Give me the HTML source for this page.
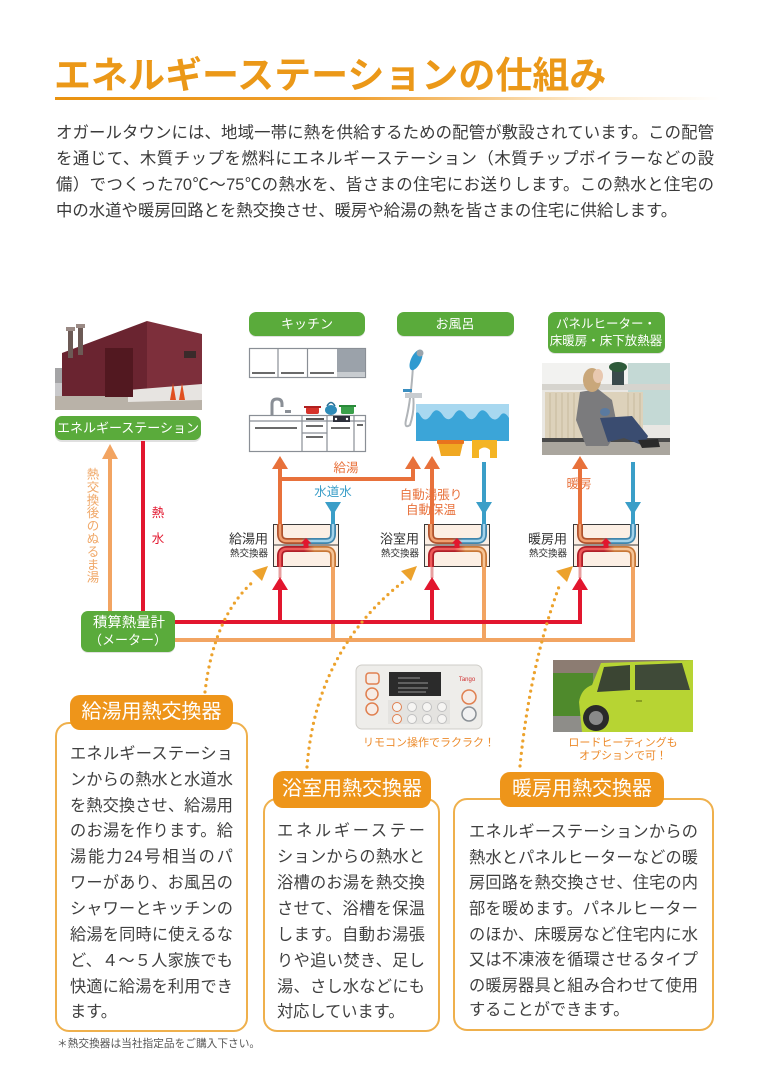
<!DOCTYPE html>
<html><head><meta charset="utf-8">
<style>
*{margin:0;padding:0;box-sizing:border-box}
body{width:768px;height:1087px;background:#fff;position:relative;overflow:hidden;font-family:"Liberation Sans","Noto Sans CJK JP",sans-serif;}
.a{position:absolute;white-space:nowrap}
.title{left:54px;top:56px;font-size:37px;line-height:40px;font-weight:bold;color:#eb9818}
.rule{left:55px;top:97px;width:665px;height:3px;background:linear-gradient(90deg,#e9920f 0%,#f0a030 45%,rgba(250,215,160,0.5) 80%,rgba(255,255,255,0) 100%)}
.p{left:56px;width:658px;font-size:16.4px;line-height:26px;height:26px;color:#3a3a3a}
.j{text-align:justify;text-align-last:justify}
.box{position:absolute;border:2px solid #efb04c;border-radius:14px;background:#fff}
.tab{position:absolute;background:#ee951a;border-radius:10px;color:#fff;font-size:20px;text-align:center}
.bt{position:absolute;white-space:nowrap;font-size:16.2px;line-height:26px;height:26px;color:#404040}
</style></head>
<body>
<div class="a title">エネルギーステーションの仕組み</div>
<div class="a rule"></div>
<div class="a p j" style="top:120px">オガールタウンには、地域一帯に熱を供給するための配管が敷設されています。この配管</div>
<div class="a p j" style="top:146px">を通じて、木質チップを燃料にエネルギーステーション（木質チップボイラーなどの設</div>
<div class="a p j" style="top:172px">備）でつくった70℃～75℃の熱水を、皆さまの住宅にお送りします。この熱水と住宅の</div>
<div class="a p" style="top:198px">中の水道や暖房回路とを熱交換させ、暖房や給湯の熱を皆さまの住宅に供給します。</div>

<svg class="a" style="left:0;top:0" width="768" height="1087" viewBox="0 0 768 1087" font-family="Liberation Sans, Noto Sans CJK JP, sans-serif">
<defs>
<linearGradient id="uo" x1="0" x2="1" y1="0" y2="0"><stop offset="0" stop-color="#b0532e"/><stop offset="0.4" stop-color="#b0532e"/><stop offset="0.6" stop-color="#3f86ad"/><stop offset="1" stop-color="#3f86ad"/></linearGradient>
<linearGradient id="ui" x1="0" x2="1" y1="0" y2="0"><stop offset="0" stop-color="#f0a070"/><stop offset="0.4" stop-color="#f0a070"/><stop offset="0.6" stop-color="#a3d2ea"/><stop offset="1" stop-color="#a3d2ea"/></linearGradient>
<linearGradient id="lo" x1="0" x2="1" y1="0" y2="0"><stop offset="0" stop-color="#b01e28"/><stop offset="0.45" stop-color="#b01e28"/><stop offset="0.65" stop-color="#c87838"/><stop offset="1" stop-color="#c87838"/></linearGradient>
<linearGradient id="li" x1="0" x2="1" y1="0" y2="0"><stop offset="0" stop-color="#ee5a5a"/><stop offset="0.45" stop-color="#ee5a5a"/><stop offset="0.65" stop-color="#f6c496"/><stop offset="1" stop-color="#f6c496"/></linearGradient>
</defs>

<!-- Building photo -->
<g>
<rect x="55" y="395" width="147" height="15" fill="#b9b2a8"/>
<rect x="55" y="368" width="12" height="28" fill="#a4a4a6"/>
<rect x="55" y="383" width="25" height="13" fill="#c9c9cb"/>
<polygon points="62,353 147,321 147,396 62,396" fill="#6a2430"/>
<polygon points="147,321 202,334 202,388 147,392" fill="#7d2f3b"/>
<polygon points="128,390 202,384 202,400 128,402" fill="#e7e4e1"/>
<rect x="105" y="348" width="28" height="49" fill="#521820"/>
<rect x="68" y="330" width="5" height="28" fill="#6c5a55"/>
<rect x="78" y="327" width="5" height="28" fill="#6c5a55"/>
<rect x="66" y="327" width="9" height="4" fill="#9a8a85"/>
<rect x="76" y="324" width="9" height="4" fill="#9a8a85"/>
<rect x="184" y="351" width="12" height="7" fill="#3a2a2a"/>
<polygon points="173,383 176,400 170,400" fill="#e05020"/>
<polygon points="182,383 185,400 179,400" fill="#e05020"/>
</g>

<!-- green pills -->
<g>
<rect x="55" y="418" width="146" height="24" rx="7" fill="#000" opacity="0.12"/>
<rect x="55" y="416" width="146" height="24" rx="7" fill="#5aab3b"/>
<text x="128" y="428" fill="#fff" font-size="13" text-anchor="middle" dominant-baseline="central">エネルギーステーション</text>
<rect x="249" y="314" width="116" height="23" rx="7" fill="#000" opacity="0.12"/>
<rect x="249" y="312" width="116" height="24" rx="7" fill="#5aab3b"/>
<text x="307" y="324" fill="#fff" font-size="13" text-anchor="middle" dominant-baseline="central">キッチン</text>
<rect x="397" y="314" width="117" height="23" rx="7" fill="#000" opacity="0.12"/>
<rect x="397" y="312" width="117" height="24" rx="7" fill="#5aab3b"/>
<text x="455" y="324" fill="#fff" font-size="13" text-anchor="middle" dominant-baseline="central">お風呂</text>
<rect x="548" y="314" width="117" height="40" rx="7" fill="#000" opacity="0.12"/>
<rect x="548" y="312" width="117" height="41" rx="7" fill="#5aab3b"/>
<text x="606" y="324" fill="#fff" font-size="12.5" text-anchor="middle" dominant-baseline="central">パネルヒーター・</text>
<text x="606" y="341" fill="#fff" font-size="12.5" text-anchor="middle" dominant-baseline="central">床暖房・床下放熱器</text>
<rect x="81" y="613" width="94" height="40" rx="7" fill="#000" opacity="0.12"/>
<rect x="81" y="611" width="94" height="41" rx="7" fill="#5aab3b"/>
<text x="129" y="623" fill="#fff" font-size="14.4" text-anchor="middle" dominant-baseline="central">積算熱量計</text>
<text x="128" y="640" fill="#fff" font-size="13" text-anchor="middle" dominant-baseline="central">（メーター）</text>
</g>

<!-- Kitchen -->
<g stroke="#8a8f96" stroke-width="1.2">
<rect x="249.5" y="348.5" width="116" height="29" fill="#fff"/>
<rect x="337" y="349" width="28" height="28" fill="#9ba2aa" stroke="none"/>
<rect x="337" y="372" width="28" height="5" fill="#c8ccd0" stroke="none"/>
<line x1="278" y1="349" x2="278" y2="377"/>
<line x1="307.5" y1="349" x2="307.5" y2="377"/>
<rect x="249.5" y="415.5" width="116" height="36" fill="#fff"/>
<line x1="249" y1="421" x2="366" y2="421"/>
<line x1="302" y1="416" x2="302" y2="452"/>
<line x1="327" y1="416" x2="327" y2="452"/>
<line x1="354" y1="416" x2="354" y2="452"/>
<line x1="302" y1="433" x2="327" y2="433"/>
<path d="M272 415 V404 Q272 399 277 399 Q282 399 282 404 V407" fill="none" stroke-width="3"/>
</g>
<g stroke="#555" stroke-width="1.8">
<line x1="252" y1="373" x2="275" y2="373"/>
<line x1="281" y1="373" x2="304" y2="373"/>
<line x1="310" y1="373" x2="334" y2="373"/>
<line x1="255" y1="428" x2="297" y2="428"/>
<line x1="306" y1="426" x2="323" y2="426"/>
<line x1="306" y1="437" x2="323" y2="437"/>
<line x1="331" y1="428" x2="350" y2="428"/>
<line x1="357" y1="425" x2="363" y2="425"/>
</g>
<rect x="306" y="418" width="18" height="2" fill="#555"/>
<rect x="333" y="416" width="17" height="6" fill="#2c2f3a"/>
<circle cx="336" cy="419" r="1.2" fill="#fff"/><circle cx="347" cy="419" r="1.2" fill="#fff"/>
<rect x="285" y="410" width="6" height="3" fill="#8a8f96"/>
<rect x="306" y="407" width="13" height="7" rx="2" fill="#d6322a"/>
<rect x="304" y="406" width="17" height="2" fill="#b02020"/>
<ellipse cx="331" cy="410" rx="6" ry="5" fill="#2e8bb8"/>
<path d="M327 406 Q331 399 335 406" fill="none" stroke="#2a6f94" stroke-width="1.5"/>
<rect x="341" y="406" width="13" height="8" rx="1.5" fill="#3aa04a"/>
<rect x="339" y="405" width="17" height="2" fill="#2a8a3a"/>

<!-- Bath -->
<path d="M413 366 Q411 400 406 420 Q404 429 410 425 Q415 410 413 395" fill="none" stroke="#b0b4b8" stroke-width="2"/>
<ellipse cx="416" cy="360" rx="5" ry="11" transform="rotate(25 416 360)" fill="#2f9ad0"/>
<circle cx="420" cy="353" r="3.5" fill="#9aa4ac"/>
<rect x="405" y="393" width="17" height="5" fill="#c8ccd0"/>
<rect x="403" y="389" width="9" height="3" fill="#3a8ec0"/>
<rect x="416" y="404" width="93" height="37" fill="#3ba5d8"/>
<path d="M416 404 H509 V418 Q504 410 500 416 Q494 424 488 414 Q482 406 477 415 Q471 424 465 414 Q459 406 454 415 Q448 424 442 414 Q436 406 431 415 Q425 424 420 415 Q418 411 416 413 Z" fill="#a8d8f0"/>
<path d="M438 443 H463 L460 456 H441 Z" fill="#f0a822"/>
<rect x="437" y="440" width="27" height="4" rx="1" fill="#e8731e"/>
<path d="M472 440 H497 V458 H490 V450 Q484.5 445 479 450 V458 H472 Z" fill="#f4b424"/>

<!-- Woman photo -->
<g>
<rect x="542" y="363" width="128" height="92" fill="#e9e7e3"/>
<rect x="542" y="363" width="128" height="22" fill="#f2f2f0"/>
<rect x="628" y="363" width="42" height="62" fill="#c4d9d5"/>
<rect x="542" y="384" width="128" height="6" fill="#d6d4ce"/>
<rect x="545" y="392" width="98" height="47" fill="#ddd2bb"/>
<g stroke="#c6b99e" stroke-width="1">
<line x1="550" y1="393" x2="550" y2="438"/><line x1="556" y1="393" x2="556" y2="438"/><line x1="562" y1="393" x2="562" y2="438"/><line x1="568" y1="393" x2="568" y2="438"/><line x1="574" y1="393" x2="574" y2="438"/><line x1="628" y1="393" x2="628" y2="438"/><line x1="634" y1="393" x2="634" y2="438"/><line x1="640" y1="393" x2="640" y2="438"/>
</g>
<rect x="542" y="438" width="128" height="4" fill="#4a4a4a"/>
<rect x="542" y="442" width="128" height="13" fill="#aaa69e"/>
<rect x="612" y="370" width="12" height="15" fill="#3a4a4c"/>
<ellipse cx="618" cy="367" rx="9" ry="5" fill="#2e5a3a"/>
<polygon points="580,392 598,389 612,400 618,430 608,446 586,446 576,420" fill="#7b7b7d"/>
<ellipse cx="592" cy="380" rx="9" ry="12" fill="#c9a77a"/>
<ellipse cx="598" cy="376" rx="5" ry="7" fill="#e8c8b0"/>
<polygon points="600,418 632,416 648,436 644,446 624,438 608,442" fill="#3a4c70"/>
<ellipse cx="605" cy="412" rx="5" ry="4" fill="#5a7aa0"/>
<polygon points="638,440 658,439 660,447 642,448" fill="#2a2a2a"/>
</g>

<!-- Pipes -->
<g fill="none" stroke-width="4">
<line x1="110" y1="611" x2="110" y2="458" stroke="#f2a462"/>
<path d="M143 441 V611" stroke="#e2162e"/>
<path d="M175 640 H633 V567" stroke="#f2a462"/>
<path d="M333 567 V640" stroke="#f2a462"/>
<path d="M484 567 V640" stroke="#f2a462"/>
<path d="M175 622 H580 V588" stroke="#e2162e"/>
<path d="M280 622 V588" stroke="#e2162e"/>
<path d="M432 622 V588" stroke="#e2162e"/>
<path d="M280 567 V578 M432 567 V578 M580 567 V578" stroke="#e7a0a0" stroke-width="3"/>
<path d="M280 524 V468" stroke="#e8713b"/>
<path d="M280 479 H413 V468" stroke="#e8713b"/>
<path d="M432 524 V468" stroke="#e8713b"/>
<path d="M580 524 V468" stroke="#e8713b"/>
<path d="M333 512 V524" stroke="#3a9ec8"/>
<path d="M484 462 V524" stroke="#3a9ec8"/>
<path d="M633 462 V524" stroke="#3a9ec8"/>
</g>
<polygon points="110,444 102,459 118,459" fill="#f2a462"/>
<g fill="#e2162e">
<polygon points="280,577 272,590 288,590"/>
<polygon points="432,577 424,590 440,590"/>
<polygon points="580,577 572,590 588,590"/>
</g>
<g fill="#e8713b">
<polygon points="280,456 272,469 288,469"/>
<polygon points="413,456 405,469 421,469"/>
<polygon points="432,456 424,469 440,469"/>
<polygon points="580,456 572,469 588,469"/>
</g>
<g fill="#3a9ec8">
<polygon points="333,515 325,502 341,502"/>
<polygon points="484,515 476,502 492,502"/>
<polygon points="633,515 625,502 641,502"/>
</g>

<!-- Exchangers -->
<g id="ex">
<rect x="273.5" y="524.5" width="65" height="42" fill="#fcefe4" stroke="#3a3a3a" stroke-width="1"/>
<line x1="273" y1="545" x2="339" y2="545" stroke="#3a3a3a" stroke-width="1"/>
<path d="M280 524 V534 Q280 541 287 541 H326 Q333 541 333 534 V524" fill="none" stroke="url(#uo)" stroke-width="6"/>
<path d="M280 524 V534 Q280 541 287 541 H326 Q333 541 333 534 V524" fill="none" stroke="url(#ui)" stroke-width="2.5"/>
<path d="M280 567 V556 Q280 549 287 549 H326 Q333 549 333 556 V567" fill="none" stroke="url(#lo)" stroke-width="6"/>
<path d="M280 567 V556 Q280 549 287 549 H326 Q333 549 333 556 V567" fill="none" stroke="url(#li)" stroke-width="2.5"/>
<polygon points="306,538 300.5,543.5 303.5,543.5 303.5,548 308.5,548 308.5,543.5 311.5,543.5" fill="#e2162e"/>
</g>
<use href="#ex" x="151" y="0"/>
<use href="#ex" x="300" y="0"/>

<!-- diagram labels -->
<g font-size="12.5" text-anchor="middle" dominant-baseline="central">
<g fill="#f0a868">
<text x="93" y="474.5">熱</text><text x="93" y="487.4">交</text><text x="93" y="500.3">換</text><text x="93" y="513.2">後</text><text x="93" y="526.1">の</text><text x="93" y="539">ぬ</text><text x="93" y="551.9">る</text><text x="93" y="564.8">ま</text><text x="93" y="577.7">湯</text>
</g>
<text x="158" y="513" fill="#e2162e">熱</text>
<text x="158" y="539" fill="#e2162e">水</text>
<text x="346" y="468" fill="#e8713b">給湯</text>
<text x="333" y="492" fill="#3a9ec8">水道水</text>
<text x="431" y="495" fill="#e8713b">自動湯張り</text>
<text x="431" y="510" fill="#e8713b">自動保温</text>
<text x="579" y="484" fill="#e8713b">暖房</text>
</g>
<g fill="#333" text-anchor="end" dominant-baseline="central">
<text x="268" y="539" font-size="13">給湯用</text>
<text x="268" y="554" font-size="9.5">熱交換器</text>
<text x="419" y="539" font-size="13">浴室用</text>
<text x="419" y="554" font-size="9.5">熱交換器</text>
<text x="567" y="539" font-size="13">暖房用</text>
<text x="567" y="554" font-size="9.5">熱交換器</text>
</g>

<!-- dotted arcs -->
<g fill="none" stroke="#eca22c" stroke-width="3.2" stroke-linecap="round" stroke-dasharray="0 6.3">
<path d="M205 692 Q214 615 255 580"/>
<path d="M307 767 Q316 650 404 581"/>
<path d="M520 766 Q530 665 560 584"/>
</g>
<g fill="#eca22c">
<polygon points="268,566 252,571 262,581"/>
<polygon points="417,566 401,571 411,581"/>
<polygon points="573,566 556,571 567,582"/>
</g>

<!-- Remote -->
<g>
<rect x="356" y="665" width="126" height="64" rx="6" fill="#eeedea" stroke="#cfcdc8"/>
<rect x="389" y="672" width="52" height="24" fill="#2b2b2b"/>
<g stroke="#bbb" stroke-width="0.8"><line x1="398" y1="678" x2="420" y2="678"/><line x1="398" y1="683" x2="428" y2="683"/><line x1="398" y1="688" x2="428" y2="688"/><line x1="398" y1="692" x2="426" y2="692"/></g>
<g fill="#f6ece6" stroke="#e08050" stroke-width="1.5">
<rect x="366" y="673" width="13" height="11" rx="3"/>
<circle cx="372" cy="694" r="6"/><circle cx="372" cy="709" r="6"/>
<circle cx="469" cy="697" r="7"/>
</g>
<circle cx="469" cy="714" r="7" fill="#f2f2f2" stroke="#8a9096" stroke-width="1.5"/>
<rect x="388" y="700" width="62" height="24" fill="#e4e3e0"/>
<g fill="#f6f5f3" stroke="#c0c0c0" stroke-width="1">
<circle cx="397" cy="707" r="4.5" stroke="#e08050"/><circle cx="412" cy="707" r="4.5"/><circle cx="427" cy="707" r="4.5"/><circle cx="442" cy="707" r="4.5"/>
<circle cx="397" cy="719" r="4.5" stroke="#e08050"/><circle cx="412" cy="719" r="4.5"/><circle cx="427" cy="719" r="4.5"/><circle cx="442" cy="719" r="4.5"/>
</g>
<text x="467" y="681" font-size="6" fill="#d03030" text-anchor="middle">Tango</text>
</g>

<!-- Car -->
<g>
<rect x="553" y="660" width="140" height="72" fill="#7a8a60"/>
<rect x="553" y="660" width="140" height="13" fill="#8c7c72"/>
<rect x="553" y="673" width="40" height="44" fill="#4f8a2c"/>
<rect x="553" y="716" width="140" height="16" fill="#8e8d89"/>
<path d="M582 732 L579 702 Q581 689 592 685 L601 663 L693 660 L693 732 Z" fill="#b7d433"/>
<polygon points="604,667 630,665 630,690 597,692" fill="#3b4533"/>
<polygon points="635,665 682,663 690,690 635,690" fill="#3f4a38"/>
<circle cx="596" cy="718" r="13" fill="#2a2a2a"/>
<circle cx="596" cy="718" r="7" fill="#8a8a8a"/>
<rect x="636" y="700" width="6" height="2" fill="#8aa020"/>
</g>

<g font-size="11" fill="#ec8a2a" text-anchor="middle" dominant-baseline="central">
<text x="429" y="743">リモコン操作でラクラク！</text>
<text x="623" y="743">ロードヒーティングも</text>
<text x="623" y="756">オプションで可！</text>
</g>
</svg>

<!-- Box 1 -->
<div class="box" style="left:55px;top:722px;width:193px;height:310px"></div>
<div class="tab" style="left:70px;top:695px;width:163px;height:35px;line-height:35px">給湯用熱交換器</div>
<div class="bt j" style="left:70px;top:741px;width:163px">エネルギーステーショ</div>
<div class="bt j" style="left:70px;top:767px;width:163px">ンからの熱水と水道水</div>
<div class="bt j" style="left:70px;top:793px;width:163px">を熱交換させ、給湯用</div>
<div class="bt j" style="left:70px;top:818px;width:163px">のお湯を作ります。給</div>
<div class="bt j" style="left:70px;top:844px;width:163px">湯能力24号相当のパ</div>
<div class="bt j" style="left:70px;top:870px;width:163px">ワーがあり、お風呂の</div>
<div class="bt j" style="left:70px;top:896px;width:163px">シャワーとキッチンの</div>
<div class="bt j" style="left:70px;top:922px;width:163px">給湯を同時に使えるな</div>
<div class="bt j" style="left:70px;top:948px;width:163px">ど、４～５人家族でも</div>
<div class="bt j" style="left:70px;top:974px;width:163px">快適に給湯を利用でき</div>
<div class="bt" style="left:70px;top:999px">ます。</div>

<!-- Box 2 -->
<div class="box" style="left:263px;top:798px;width:177px;height:234px"></div>
<div class="tab" style="left:273px;top:771px;width:158px;height:37px;line-height:37px">浴室用熱交換器</div>
<div class="bt j" style="left:277px;top:818px;width:148px">エネルギーステー</div>
<div class="bt j" style="left:277px;top:844px;width:148px">ションからの熱水と</div>
<div class="bt j" style="left:277px;top:870px;width:148px">浴槽のお湯を熱交換</div>
<div class="bt j" style="left:277px;top:896px;width:148px">させて、浴槽を保温</div>
<div class="bt j" style="left:277px;top:922px;width:148px">します。自動お湯張</div>
<div class="bt j" style="left:277px;top:948px;width:148px">りや追い焚き、足し</div>
<div class="bt j" style="left:277px;top:974px;width:148px">湯、さし水などにも</div>
<div class="bt" style="left:277px;top:999px">対応しています。</div>

<!-- Box 3 -->
<div class="box" style="left:453px;top:798px;width:261px;height:233px"></div>
<div class="tab" style="left:500px;top:772px;width:164px;height:35px;line-height:35px">暖房用熱交換器</div>
<div class="bt j" style="left:469px;top:819px;width:229px">エネルギーステーションからの</div>
<div class="bt j" style="left:469px;top:845px;width:229px">熱水とパネルヒーターなどの暖</div>
<div class="bt j" style="left:469px;top:870px;width:229px">房回路を熱交換させ、住宅の内</div>
<div class="bt j" style="left:469px;top:896px;width:229px">部を暖めます。パネルヒーター</div>
<div class="bt j" style="left:469px;top:922px;width:229px">のほか、床暖房など住宅内に水</div>
<div class="bt j" style="left:469px;top:947px;width:229px">又は不凍液を循環させるタイプ</div>
<div class="bt j" style="left:469px;top:973px;width:229px">の暖房器具と組み合わせて使用</div>
<div class="bt" style="left:469px;top:997px">することができます。</div>

<div class="a" style="left:57px;top:1037px;font-size:10.7px;line-height:14px;color:#555">＊熱交換器は当社指定品をご購入下さい。</div>
</body></html>
